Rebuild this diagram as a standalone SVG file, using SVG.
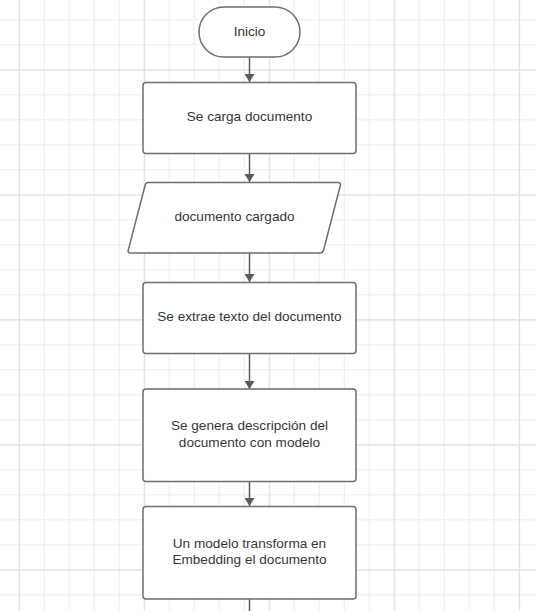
<svg xmlns="http://www.w3.org/2000/svg" width="536" height="611" viewBox="0 0 536 611">
<defs>
<pattern id="minor" patternUnits="userSpaceOnUse" x="18.8" y="19.3" width="25" height="25">
<path d="M25 0.5H0.5V25" fill="none" stroke="#ececec" stroke-width="1"/>
</pattern>
<pattern id="major" patternUnits="userSpaceOnUse" x="18.8" y="-55.7" width="125" height="125">
<path d="M125 0.5H0.5V125" fill="none" stroke="#e2e2e2" stroke-width="1.4"/>
</pattern>
<marker id="arr" viewBox="0 0 8 10" refX="8" refY="5" markerWidth="8" markerHeight="10" markerUnits="userSpaceOnUse" orient="auto">
<path d="M0 0L8 5L0 10Z" fill="#5a5a5a"/>
</marker>
<style>
.shape{fill:#ffffff;stroke:#6b6e73;stroke-width:1.5}
.lbl{font-family:"Liberation Sans",Arial,sans-serif;font-size:13.6px;fill:#363636;text-anchor:middle}
.conn{stroke:#5a5a5a;stroke-width:1.5;fill:none}
</style>
</defs>
<rect width="536" height="611" fill="#ffffff"/>
<rect width="536" height="611" fill="url(#minor)"/>
<rect width="536" height="611" fill="url(#major)"/>
<g id="connectors">
<line class="conn" x1="249.5" y1="57" x2="249.5" y2="82" marker-end="url(#arr)"/>
<line class="conn" x1="249.5" y1="153" x2="249.5" y2="182" marker-end="url(#arr)"/>
<line class="conn" x1="249.5" y1="253" x2="249.5" y2="282" marker-end="url(#arr)"/>
<line class="conn" x1="249.5" y1="353" x2="249.5" y2="389" marker-end="url(#arr)"/>
<line class="conn" x1="249.5" y1="482" x2="249.5" y2="506" marker-end="url(#arr)"/>
<line class="conn" x1="249.5" y1="599" x2="249.5" y2="611"/>
</g>
<g id="inicio">
<rect class="shape" x="199" y="7" width="101" height="50" rx="25" ry="25"/>
<text class="lbl" x="249.5" y="36">Inicio</text>
</g>
<g id="carga">
<rect class="shape" x="143" y="82.5" width="213" height="71" rx="3"/>
<text class="lbl" x="249.5" y="121">Se carga documento</text>
</g>
<g id="cargado">
<path class="shape" d="M148 182.5H338Q341 182.5 340.3 185.5L323.5 250.5Q322.8 253 320 253H130.5Q127.5 253 128.3 250L145.2 185Q146 182.5 148 182.5Z"/>
<text class="lbl" x="234.5" y="221">documento cargado</text>
</g>
<g id="extrae">
<rect class="shape" x="143" y="282.5" width="213" height="71" rx="3"/>
<text class="lbl" x="249.5" y="320.5">Se extrae texto del documento</text>
</g>
<g id="descripcion">
<rect class="shape" x="143" y="389" width="213" height="92.5" rx="3"/>
<text class="lbl" x="249.5" y="429.5">Se genera descripción del</text>
<text class="lbl" x="249.5" y="446.5">documento con modelo</text>
</g>
<g id="embedding">
<rect class="shape" x="143" y="506.5" width="213" height="92.5" rx="3"/>
<text class="lbl" x="249.5" y="547.5">Un modelo transforma en</text>
<text class="lbl" x="249.5" y="564">Embedding el documento</text>
</g>
</svg>
